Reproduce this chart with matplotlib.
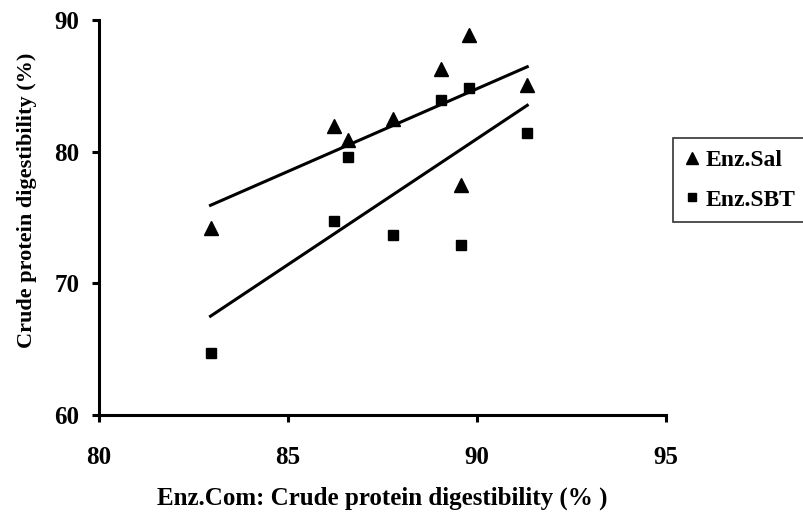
import matplotlib
matplotlib.use("Agg")
import matplotlib.pyplot as plt
import numpy as np

plt.rcParams["font.family"] = ["Liberation Serif", "DejaVu Serif"]
plt.rcParams["font.weight"] = "bold"

# Enz.Com crude protein digestibility (%) -- shared x values
enz_com = [82.95, 86.23, 86.60, 87.77, 89.04, 89.57, 89.78, 91.33]
# Crude protein digestibility (%) of the two other treatments
enz_sal = [74.2, 81.95, 80.9, 82.5, 86.28, 77.47, 88.86, 85.06]
enz_sbt = [64.73, 74.76, 79.6, 73.7, 83.92, 72.9, 84.81, 81.44]

x_ticks = [80, 85, 90, 95]
y_ticks = [60, 70, 80, 90]

fig = plt.figure(figsize=(8.04, 5.16), dpi=100)
ax = fig.add_axes([99 / 804, 1 - 415 / 516, (666 - 99) / 804, (415 - 20) / 516])

x = np.array(enz_com)
xfit = np.array([x.min(), x.max()])

for y, marker, ms, label in [(enz_sal, "^", 10, "Enz.Sal"), (enz_sbt, "s", 7.5, "Enz.SBT")]:
    ax.plot(x, y, linestyle="none", marker=marker, markersize=ms, color="black", label=label)
    slope, intercept = np.polyfit(x, y, 1)
    ax.plot(xfit, slope * xfit + intercept, color="black", linewidth=2.2, label="_nolegend_")

ax.set_xlim(80, 95)
ax.set_ylim(60, 90)
ax.set_xticks(x_ticks)
ax.set_yticks(y_ticks)

for side in ["top", "right"]:
    ax.spines[side].set_visible(False)
for side in ["left", "bottom"]:
    ax.spines[side].set_linewidth(2.2)
ax.tick_params(width=2.2, length=5, labelsize=18)
ax.tick_params(axis="x", pad=17)
ax.tick_params(axis="y", pad=9)
for lab in ax.get_xticklabels() + ax.get_yticklabels():
    lab.set_fontweight("bold")

ax.set_xlabel("Enz.Com: Crude protein digestibility (% )", fontsize=18, fontweight="bold")
ax.set_ylabel("Crude protein digestibility (%)", fontsize=16, fontweight="bold")
ax.xaxis.set_label_coords(0.5, -0.18)
ax.yaxis.set_label_coords(-0.11, 0.544)

leg = fig.legend(loc="upper left", bbox_to_anchor=(673 / 804, 1 - 138 / 516),
                 frameon=True, fancybox=False, edgecolor="black", fontsize=17,
                 markerscale=0.8, handlelength=0.6, handletextpad=0.3,
                 labelspacing=0.75, borderpad=0.5, borderaxespad=0)
leg.get_frame().set_linewidth(1.2)
for t in leg.get_texts():
    t.set_fontweight("bold")

fig.savefig("out.png", dpi=100)
